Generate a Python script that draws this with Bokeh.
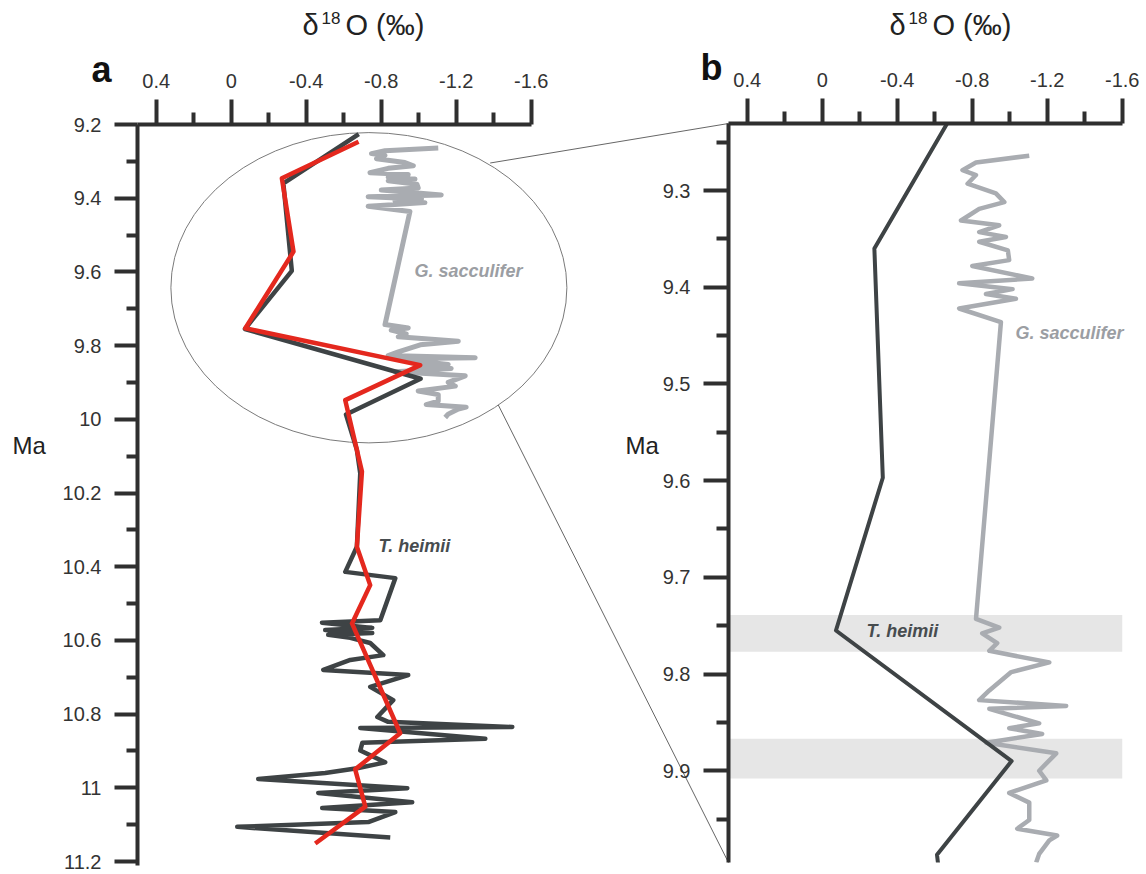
from bokeh.plotting import figure
from bokeh.models import Range1d, FixedTicker, Label, LinearAxis
from bokeh.embed import file_html
from bokeh.resources import INLINE

# ---------------- data ----------------
heimii_age = [9.226, 9.360, 9.597, 9.755, 9.890, 9.987, 10.083, 10.147, 10.346, 10.414,
              10.431, 10.545, 10.552, 10.566, 10.572, 10.580, 10.585, 10.593, 10.607, 10.640,
              10.653, 10.680, 10.694, 10.726, 10.762, 10.808, 10.821, 10.835, 10.838, 10.867,
              10.878, 10.899, 10.931, 10.947, 10.960, 10.976, 11.001, 11.014, 11.039, 11.055,
              11.066, 11.093, 11.106, 11.135]
heimii_d18o = [-0.68, -0.278, -0.323, -0.073, -1.01, -0.612, -0.670, -0.688, -0.670, -0.608,
               -0.875, -0.795, -0.484, -0.752, -0.501, -0.752, -0.517, -0.635, -0.741, -0.811,
               -0.635, -0.491, -0.944, -0.741, -0.864, -0.779, -0.837, -1.499, -0.688, -1.355,
               -0.699, -0.688, -0.821, -0.672, -0.501, -0.144, -0.939, -0.464, -0.965, -0.485,
               -0.875, -0.731, -0.032, -0.848]

sacc_age = [9.264, 9.271, 9.279, 9.284, 9.293, 9.303, 9.312, 9.319, 9.331, 9.336,
            9.343, 9.348, 9.353, 9.362, 9.372, 9.378, 9.391, 9.396, 9.402, 9.407,
            9.412, 9.422, 9.436, 9.743, 9.752, 9.758, 9.768, 9.776, 9.788, 9.798,
            9.817, 9.827, 9.833, 9.836, 9.843, 9.851, 9.856, 9.862, 9.871, 9.882,
            9.900, 9.910, 9.923, 9.933, 9.951, 9.960, 9.967, 9.972, 9.986, 9.995]
sacc_d18o = [-1.104, -0.82, -0.748, -0.82, -0.775, -0.926, -0.971, -0.837, -0.74, -0.944,
             -0.837, -0.98, -0.837, -0.99, -0.997, -0.80, -1.12, -0.73, -1.015, -0.873,
             -1.033, -0.73, -0.953, -0.82, -0.944, -0.853, -0.933, -0.891, -1.211, -1.008,
             -0.891, -0.837, -1.301, -0.891, -1.013, -1.157, -0.997, -1.173, -0.875, -1.248,
             -1.157, -1.195, -0.997, -1.104, -1.104, -1.04, -1.253, -1.211, -1.157, -1.141]

smooth_age = [9.247, 9.346, 9.545, 9.753, 9.853, 9.948, 10.142, 10.346, 10.450, 10.554,
              10.852, 10.950, 11.051, 11.151]
smooth_d18o = [-0.679, -0.270, -0.332, -0.075, -1.008, -0.608, -0.697, -0.670, -0.741, -0.644,
               -0.901, -0.661, -0.715, -0.448]

band_start = [9.739, 9.867]
band_end = [9.777, 9.908]

d18o_ticks = [0.4, 0.0, -0.4, -0.8, -1.2, -1.6]
d18o_tick_labels = ["0.4", "0", "-0.4", "-0.8", "-1.2", "-1.6"]
d18o_minor = [0.2, -0.2, -0.6, -1.0, -1.4]

age_ticks_a = [9.2, 9.4, 9.6, 9.8, 10.0, 10.2, 10.4, 10.6, 10.8, 11.0, 11.2]
age_tick_labels_a = ["9.2", "9.4", "9.6", "9.8", "10", "10.2", "10.4", "10.6", "10.8", "11", "11.2"]
age_minor_a = [9.3, 9.5, 9.7, 9.9, 10.1, 10.3, 10.5, 10.7, 10.9, 11.1]

age_ticks_b = [9.3, 9.4, 9.5, 9.6, 9.7, 9.8, 9.9]
age_tick_labels_b = ["9.3", "9.4", "9.5", "9.6", "9.7", "9.8", "9.9"]
age_minor_b = [9.25, 9.35, 9.45, 9.55, 9.65, 9.75, 9.85, 9.95]

# ---------------- layout geometry (canvas pixels) ----------------
FONT = "Liberation Sans"
AX_COL = "#2f2f2f"
DARK = "#3e4345"
GREY = "#a9acb1"
RED = "#e4281e"
W, H = 1146, 874

# panel a: frame corner (137,124), 187.5 px per permil, 368.5 px per Myr
GA = dict(left=137, top=124, sx=187.5, sy=368.5, x0=0.5, y0=9.2)
A_XMIN, A_YMAX = -1.6, 11.211
# panel b: frame corner (728,123), 187.5 px per permil, 967 px per Myr
GB = dict(left=728, top=123, sx=187.5, sy=967.0, x0=0.5, y0=9.2307)
B_XMIN, B_YMAX = -1.6, 9.995


def to_data(px, py, g):
    return (g["x0"] - (px - g["left"]) / g["sx"], g["y0"] + (py - g["top"]) / g["sy"])


def to_px(v, ma, g):
    return (g["left"] + (g["x0"] - v) * g["sx"], g["top"] + (ma - g["y0"]) * g["sy"])


def canvas_ranges(g):
    x_left, y_top = to_data(0, 0, g)
    x_right, y_bot = to_data(W, H, g)
    return Range1d(x_left, x_right), Range1d(y_bot, y_top)


xa, ya = canvas_ranges(GA)
xb, yb = canvas_ranges(GB)

p = figure(width=W, height=H, output_backend="svg", toolbar_location=None,
           x_range=xa, y_range=ya, x_axis_type=None, y_axis_type=None,
           min_border=0, min_border_left=0, min_border_right=0,
           min_border_top=0, min_border_bottom=0,
           background_fill_color="white", border_fill_color="white")
p.extra_x_ranges = {"bx": xb}
p.extra_y_ranges = {"by": yb}
p.outline_line_color = None
p.grid.visible = False


def make_axis(side, loc, bounds, ticks, minor, labels, tick_out, minor_out, standoff, **rn):
    ax = LinearAxis(fixed_location=loc, bounds=bounds, **rn)
    ax.ticker = FixedTicker(ticks=ticks, minor_ticks=minor)
    ax.major_label_overrides = dict(zip(ticks, labels))
    ax.axis_line_width = 4
    ax.axis_line_color = AX_COL
    ax.major_tick_line_width = 4
    ax.major_tick_line_color = AX_COL
    ax.minor_tick_line_width = 4
    ax.minor_tick_line_color = AX_COL
    ax.major_tick_in = 0
    ax.minor_tick_in = 0
    ax.major_tick_out = tick_out
    ax.minor_tick_out = minor_out
    ax.major_label_standoff = standoff
    ax.major_label_text_font = FONT
    ax.major_label_text_font_size = "20px"
    ax.major_label_text_color = "#333333"
    p.add_layout(ax, side)


B = dict(x_range_name="bx", y_range_name="by")

# ---------------- panel a marks ----------------
p.ellipse(x=-0.734, y=9.643, width=2.112, height=0.842, fill_color=None,
          line_color="#7a7a7a", line_width=1)
p.line(sacc_d18o, sacc_age, line_color=GREY, line_width=5, line_join="round")
p.line(heimii_d18o, heimii_age, line_color=DARK, line_width=4.5, line_join="round")
p.line(smooth_d18o, smooth_age, line_color=RED, line_width=4.5, line_join="round")

# ---------------- panel b marks ----------------
p.quad(left=GB["x0"], right=B_XMIN, bottom=band_start, top=band_end,
       fill_color="#e6e6e6", line_color=None, **B)
p.line(sacc_d18o, sacc_age, line_color=GREY, line_width=4.5, line_join="round", **B)
p.line(heimii_d18o, heimii_age, line_color=DARK, line_width=4, line_join="round", **B)
# keep panel b's curves inside its frame (white covers above and below it)
p.quad(left=[GB["x0"], GB["x0"]], right=[xb.end, xb.end],
       bottom=[GB["y0"], yb.start], top=[yb.end, B_YMAX],
       fill_color="white", line_color=None, **B)

# ---------------- zoom links: ellipse -> panel b frame corners ----------------
link_a = [(-1.381, 9.3045), (-1.424, 9.961)]
link_b = [(GB["x0"], GB["y0"]), (GB["x0"], B_YMAX)]
x0s, y0s, x1s, y1s = [], [], [], []
for (va, ma), (vb, mb) in zip(link_a, link_b):
    end = to_data(*to_px(vb, mb, GB), GA)
    x0s.append(va); y0s.append(ma); x1s.append(end[0]); y1s.append(end[1])
p.segment(x0=x0s, y0=y0s, x1=x1s, y1=y1s, line_color="#666666", line_width=1)

# ---------------- axes ----------------
make_axis("above", GA["y0"], (A_XMIN, GA["x0"]), d18o_ticks, d18o_minor, d18o_tick_labels, 25, 12, 12)
make_axis("left", GA["x0"], (GA["y0"], A_YMAX), age_ticks_a, age_minor_a, age_tick_labels_a, 23, 11, 13)
make_axis("above", GB["y0"], (B_XMIN, GB["x0"]), d18o_ticks, d18o_minor, d18o_tick_labels, 25, 12, 12, **B)
make_axis("left", GB["x0"], (GB["y0"], B_YMAX), age_ticks_b, age_minor_b, age_tick_labels_b, 25, 12, 13, **B)


# ---------------- texts ----------------
def add_text(px, py, text, size, color="#222222", style="normal"):
    # py is the wanted baseline; Bokeh's alphabetic anchor sits ~0.42 em lower
    x, y = to_data(px, py - 0.42 * size, GA)
    p.add_layout(Label(x=x, y=y, text=text, text_font=FONT, text_font_size=f"{size}px",
                       text_color=color, text_font_style=style, text_align="left",
                       text_baseline="alphabetic"))


for dx in (302, 889):
    add_text(dx, 37, "δ", 29)
    add_text(dx + 19, 25, "18", 17)
    add_text(dx + 43, 37, "O (‰)", 29)

add_text(91, 84, "a", 36, color="#111111", style="bold")
add_text(700, 82, "b", 36, color="#111111", style="bold")
add_text(12, 455, "Ma", 24)
add_text(625, 455, "Ma", 24)

add_text(414, 278, "G. sacculifer", 18, color="#9b9ea3", style="bold italic")
add_text(378, 553, "T. heimii", 18, color="#474c4f", style="bold italic")
add_text(1015, 340, "G. sacculifer", 18, color="#9b9ea3", style="bold italic")
add_text(866, 638, "T. heimii", 18, color="#474c4f", style="bold italic")

open("out.html", "w").write(file_html(p, INLINE))
